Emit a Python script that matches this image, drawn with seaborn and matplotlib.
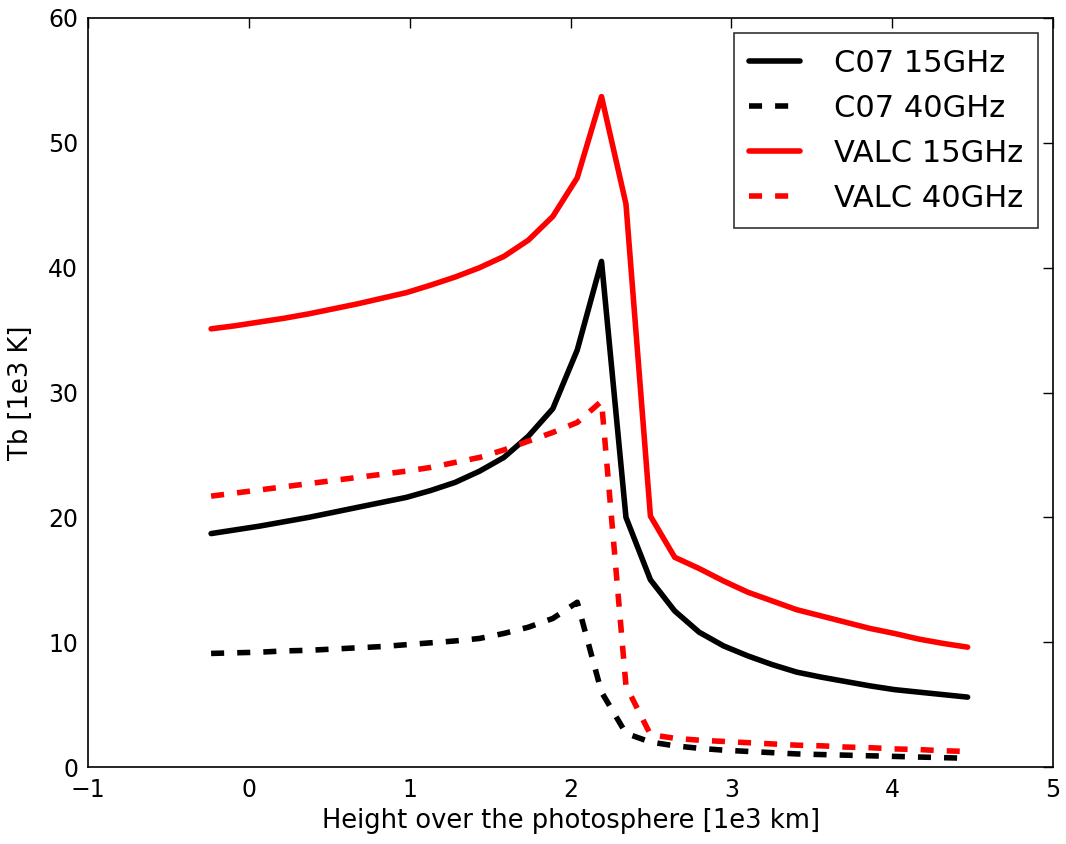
import numpy as np
import pandas as pd
import matplotlib
matplotlib.use("Agg")
import matplotlib.pyplot as plt
import seaborn as sns

# --- data ---
height = [-0.235, -0.083, 0.068, 0.220, 0.372, 0.524, 0.675, 0.827, 0.979, 1.130,
          1.282, 1.434, 1.585, 1.737, 1.889, 2.041, 2.192, 2.344, 2.496, 2.647,
          2.799, 2.951, 3.102, 3.254, 3.406, 3.558, 3.709, 3.861, 4.013, 4.164,
          4.316, 4.468]

c07_15 = [18.7, 19.0, 19.3, 19.65, 20.0, 20.4, 20.8, 21.2, 21.6, 22.15,
          22.8, 23.7, 24.8, 26.5, 28.7, 33.4, 40.5, 20.0, 15.0, 12.5,
          10.8, 9.7, 8.9, 8.2, 7.6, 7.2, 6.85, 6.5, 6.2, 6.0,
          5.8, 5.6]

c07_40 = [9.1, 9.15, 9.2, 9.3, 9.35, 9.45, 9.55, 9.65, 9.8, 9.95,
          10.1, 10.3, 10.7, 11.2, 11.9, 13.2, 6.0, 2.7, 2.0, 1.7,
          1.5, 1.35, 1.25, 1.15, 1.05, 1.0, 0.95, 0.9, 0.85, 0.8,
          0.75, 0.7]

valc_15 = [35.1, 35.35, 35.65, 35.95, 36.3, 36.7, 37.1, 37.55, 38.0, 38.6,
           39.25, 40.0, 40.9, 42.2, 44.1, 47.2, 53.7, 45.1, 20.1, 16.8,
           15.9, 14.9, 14.0, 13.3, 12.6, 12.1, 11.6, 11.1, 10.7, 10.25,
           9.9, 9.6]

valc_40 = [21.7, 21.95, 22.2, 22.45, 22.7, 22.95, 23.2, 23.45, 23.7, 24.0,
           24.4, 24.8, 25.4, 26.1, 26.8, 27.6, 29.3, 6.5, 2.6, 2.3,
           2.15, 2.05, 1.95, 1.85, 1.75, 1.7, 1.6, 1.55, 1.45, 1.4,
           1.3, 1.25]

series_names = ["C07 15GHz", "C07 40GHz", "VALC 15GHz", "VALC 40GHz"]
series_values = [c07_15, c07_40, valc_15, valc_40]
colors = {"C07 15GHz": "black", "C07 40GHz": "black",
          "VALC 15GHz": "red", "VALC 40GHz": "red"}
dash_styles = {"C07 15GHz": "", "C07 40GHz": (2.35, 2.35),
               "VALC 15GHz": "", "VALC 40GHz": (2.35, 2.35)}

# long format table for seaborn
df = pd.concat([pd.DataFrame({"h": height, "tb": v, "model": n})
                for n, v in zip(series_names, series_values)], ignore_index=True)

sns.set_style("white")
plt.rcParams['font.family'] = ['DejaVu Sans']
plt.rcParams['text.color'] = 'black'
plt.rcParams['axes.labelcolor'] = 'black'
plt.rcParams['xtick.color'] = 'black'
plt.rcParams['ytick.color'] = 'black'
plt.rcParams['xtick.direction'] = 'in'
plt.rcParams['ytick.direction'] = 'in'
plt.rcParams['xtick.top'] = True
plt.rcParams['ytick.right'] = True

fig = plt.figure(figsize=(10.66, 8.44), dpi=100)
ax = fig.add_axes([0.0826, 0.0912, 0.9054, 0.8875])

sns.lineplot(data=df, x="h", y="tb", hue="model", style="model",
             palette=colors, dashes=dash_styles, linewidth=4, ax=ax,
             hue_order=series_names, style_order=series_names)

ax.set_xlim(-1, 5)
ax.set_ylim(0, 60)
ax.set_xticks(range(-1, 6))
ax.set_yticks(range(0, 61, 10))
ax.tick_params(axis='both', which='major', labelsize=17, length=7, width=1,
               color='black', labelcolor='black', direction='in',
               top=True, right=True)
ax.tick_params(axis='x', pad=8)
ax.tick_params(axis='y', pad=7)
for s in ax.spines.values():
    s.set_color('black')
    s.set_linewidth(1.2)

ax.set_xlabel("Height over the photosphere [1e3 km]", fontsize=18.5, labelpad=4)
ax.set_ylabel("Tb [1e3 K]", fontsize=18.5, labelpad=10)

handles, labels = ax.get_legend_handles_labels()
leg = ax.legend(handles, labels, loc='upper right', fontsize=22, frameon=True,
                fancybox=False, handlelength=1.65, borderaxespad=0.5,
                labelspacing=0.53, handletextpad=1.1, borderpad=0.5)
leg.get_frame().set_edgecolor('black')
leg.get_frame().set_linewidth(1.2)
for line in leg.get_lines():
    line.set_linewidth(4)

fig.savefig("out.png", dpi=100)
